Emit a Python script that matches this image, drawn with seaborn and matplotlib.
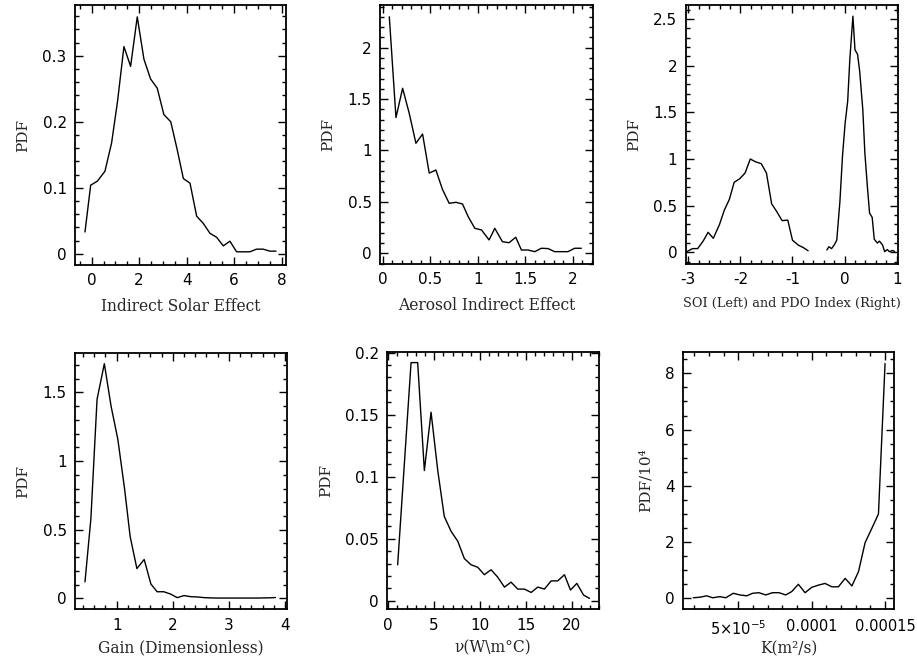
import numpy as np
import pandas as pd
import matplotlib
matplotlib.use("Agg")
import matplotlib.pyplot as plt
from matplotlib.ticker import MultipleLocator, FuncFormatter, FixedLocator, FixedFormatter
import seaborn as sns

# ---------------- data ----------------
solar_x = [-0.28, -0.04, 0.24, 0.56, 0.84, 1.09, 1.36, 1.64, 1.92, 2.20, 2.48, 2.76, 3.04, 3.33,
           3.60, 3.86, 4.14, 4.42, 4.70, 4.98, 5.26, 5.54, 5.82, 6.10, 6.38, 6.66, 6.94, 7.22, 7.50, 7.76]
solar_y = [0.033, 0.104, 0.110, 0.125, 0.168, 0.231, 0.314, 0.284, 0.359, 0.295, 0.265, 0.251, 0.211, 0.200,
           0.158, 0.114, 0.107, 0.057, 0.046, 0.031, 0.025, 0.012, 0.019, 0.003, 0.003, 0.003, 0.007, 0.007, 0.004, 0.004]

aero_x = [0.07, 0.14, 0.21, 0.28, 0.35, 0.42, 0.49, 0.56, 0.63, 0.70, 0.77, 0.84, 0.90, 0.97, 1.04,
          1.12, 1.18, 1.26, 1.33, 1.40, 1.46, 1.53, 1.60, 1.67, 1.74, 1.81, 1.88, 1.95, 2.02, 2.09]
aero_y = [2.30, 1.32, 1.605, 1.36, 1.07, 1.16, 0.78, 0.81, 0.62, 0.486, 0.496, 0.48, 0.356, 0.243, 0.227,
          0.13, 0.243, 0.113, 0.103, 0.156, 0.032, 0.032, 0.016, 0.049, 0.046, 0.016, 0.016, 0.016, 0.049, 0.049]

soi_x = [-3.03, -2.92, -2.82, -2.71, -2.62, -2.52, -2.40, -2.31, -2.21, -2.12, -2.01, -1.91, -1.81, -1.71,
         -1.60, -1.50, -1.40, -1.30, -1.20, -1.09, -1.00, -0.89, -0.79, -0.70]
soi_y = [0.007, 0.04, 0.04, 0.125, 0.215, 0.15, 0.30, 0.45, 0.57, 0.75, 0.79, 0.85, 1.00, 0.97,
         0.95, 0.85, 0.52, 0.435, 0.34, 0.345, 0.13, 0.078, 0.05, 0.017]

pdo_x = [-0.34, -0.30, -0.25, -0.20, -0.15, -0.09, -0.04, 0.01, 0.06, 0.10, 0.16, 0.20, 0.25, 0.29,
         0.35, 0.39, 0.44, 0.48, 0.53, 0.57, 0.63, 0.67, 0.73, 0.77, 0.82, 0.86, 0.92, 0.96]
pdo_y = [0.025, 0.06, 0.04, 0.078, 0.13, 0.54, 1.03, 1.38, 1.62, 2.06, 2.53, 2.17, 2.12, 1.94,
         1.53, 1.06, 0.69, 0.42, 0.375, 0.14, 0.10, 0.12, 0.078, 0.007, 0.03, 0.007, 0.02, 0.01]

gain_x = [0.435, 0.54, 0.65, 0.78, 0.90, 1.02, 1.14, 1.24, 1.36, 1.49, 1.61, 1.72, 1.84, 1.96, 2.08,
          2.20, 2.32, 2.44, 2.56, 2.68, 2.80, 2.92, 3.04, 3.16, 3.28, 3.40, 3.52, 3.64, 3.76, 3.83]
gain_y = [0.12, 0.58, 1.45, 1.71, 1.40, 1.16, 0.80, 0.45, 0.217, 0.283, 0.104, 0.048, 0.048, 0.031, 0.005,
          0.02, 0.012, 0.01, 0.005, 0.003, 0.002, 0.002, 0.002, 0.002, 0.002, 0.002, 0.002, 0.003, 0.004, 0.006]

nu_x = [1.02, 2.48, 3.20, 3.93, 4.66, 5.39, 6.10, 6.84, 7.57, 8.29, 9.02, 9.75, 10.47, 11.20, 11.93,
        12.66, 13.38, 14.11, 14.84, 15.57, 16.29, 17.02, 17.75, 18.47, 19.20, 19.86, 20.55, 21.28, 21.93]
nu_y = [0.029, 0.192, 0.192, 0.105, 0.152, 0.105, 0.068, 0.056, 0.048, 0.034, 0.029, 0.027, 0.021, 0.025, 0.019,
        0.011, 0.015, 0.0094, 0.0094, 0.0067, 0.011, 0.0094, 0.016, 0.016, 0.021, 0.0086, 0.014, 0.0046, 0.0019]

k_x = [1.93e-5, 2.39e-5, 2.84e-5, 3.25e-5, 3.75e-5, 4.14e-5, 4.66e-5, 5.11e-5, 5.57e-5, 5.98e-5,
       6.41e-5, 6.87e-5, 7.32e-5, 7.78e-5, 8.23e-5, 8.64e-5, 9.09e-5, 9.55e-5, 1.0e-4, 1.046e-4,
       1.091e-4, 1.137e-4, 1.182e-4, 1.228e-4, 1.274e-4, 1.319e-4, 1.364e-4, 1.41e-4, 1.455e-4, 1.5e-4]
k_y = [0.02, 0.04, 0.09, 0.02, 0.06, 0.02, 0.18, 0.12, 0.09, 0.18,
       0.20, 0.12, 0.20, 0.20, 0.12, 0.24, 0.50, 0.20, 0.39, 0.47,
       0.53, 0.41, 0.41, 0.71, 0.44, 0.95, 1.98, 2.49, 3.00, 8.35]

# ---------------- style ----------------
sns.set_style("ticks")
plt.rcParams["font.family"] = ["DejaVu Sans"]
plt.rcParams["axes.linewidth"] = 1.3
plt.rcParams["axes.edgecolor"] = "black"

TICK_SIZE = 11

fig = plt.figure(figsize=(9.17, 6.6), dpi=100)

W, H = 917, 660
def add_axes(l, t, r, b):
    return fig.add_axes([l / W, 1 - b / H, (r - l) / W, (b - t) / H])

ax1 = add_axes(75, 5, 286, 265)
ax2 = add_axes(380, 5, 592.7, 264)
ax3 = add_axes(685.7, 5, 897.7, 264)
ax4 = add_axes(75, 352.7, 286.7, 609.3)
ax5 = add_axes(387.3, 351.7, 599.3, 609.3)
ax6 = add_axes(683.3, 351.7, 894.3, 609.3)

line_kw = dict(color="black", linewidth=1.0, sort=False, estimator=None)

sns.lineplot(x=solar_x, y=solar_y, ax=ax1, **line_kw)
sns.lineplot(x=aero_x, y=aero_y, ax=ax2, **line_kw)
sns.lineplot(x=soi_x, y=soi_y, ax=ax3, **line_kw)
sns.lineplot(x=pdo_x, y=pdo_y, ax=ax3, **line_kw)
sns.lineplot(x=gain_x, y=gain_y, ax=ax4, **line_kw)
sns.lineplot(x=nu_x, y=nu_y, ax=ax5, **line_kw)
sns.lineplot(x=k_x, y=k_y, ax=ax6, **line_kw)

gfmt = FuncFormatter(lambda v, p: "%g" % round(v, 10))

setup = [
    (ax1, (-0.70, 8.18), (-0.017, 0.377), 2, 0.5, 0.1, 0.02, "Indirect Solar Effect", "PDF", 11.2, 7),
    (ax2, (-0.028, 2.21), (-0.104, 2.415), 0.5, 0.1, 0.5, 0.1, "Aerosol Indirect Effect", "PDF", 11.2, 7),
    (ax3, (-3.05, 1.02), (-0.125, 2.65), 1, 0.2, 0.5, 0.1, "SOI (Left) and PDO Index (Right)", "PDF", 9.3, 7),
    (ax4, (0.257, 4.03), (-0.08, 1.79), 1, 0.2, 0.5, 0.1, "Gain (Dimensionless)", "PDF", 11.2, 5),
    (ax5, (-0.11, 23.0), (-0.0069, 0.2008), 5, 1, 0.05, 0.01, "ν(W\\m°C)", "PDF", 11.2, 5),
    (ax6, (1.25e-5, 1.563e-4), (-0.39, 8.77), 5e-5, 1e-5, 2, 0.5, "K(m²/s)", "PDF/10⁴", 11.2, 2),
]

for ax, xl, yl, xM, xm, yM, ym, xlab, ylab, xfs, lp in setup:
    ax.set_xlim(*xl)
    ax.set_ylim(*yl)
    ax.xaxis.set_major_locator(MultipleLocator(xM))
    ax.xaxis.set_minor_locator(MultipleLocator(xm))
    ax.yaxis.set_major_locator(MultipleLocator(yM))
    ax.yaxis.set_minor_locator(MultipleLocator(ym))
    ax.xaxis.set_major_formatter(gfmt)
    ax.yaxis.set_major_formatter(gfmt)
    ax.tick_params(which="both", direction="in", top=True, right=True, colors="black",
                   labelsize=TICK_SIZE, width=1.0)
    ax.tick_params(which="major", length=6, pad=6)
    ax.tick_params(which="minor", length=3)
    ax.set_xlabel(xlab, family=["DejaVu Serif"], fontsize=xfs, labelpad=lp)
    ax.set_ylabel(ylab, family=["DejaVu Serif"], fontsize=11, labelpad=9)
    for s in ax.spines.values():
        s.set_visible(True)
        s.set_color("black")

ax6.xaxis.set_major_locator(FixedLocator([5e-5, 1e-4, 1.5e-4]))
ax6.xaxis.set_major_formatter(FixedFormatter([r"5$\times$10$^{-5}$", "0.0001", "0.00015"]))
ax6.tick_params(axis="x", which="major", pad=7, labelsize=10.5)

fig.savefig("out.png", dpi=100)
